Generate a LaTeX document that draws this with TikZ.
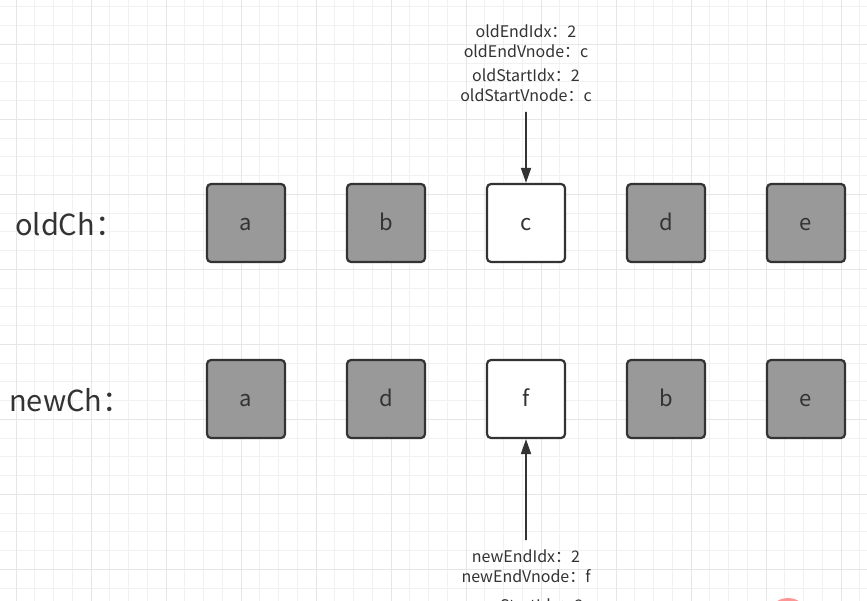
\documentclass[tikz,border=0pt]{standalone}
\usepackage{fontspec}
\setmainfont{Noto Sans CJK SC}
\usepackage{tikz}
\usetikzlibrary{arrows.meta,positioning}
\definecolor{gridminor}{RGB}{241,241,241}
\definecolor{gridmajor}{RGB}{230,230,230}
\definecolor{boxgray}{RGB}{153,153,153}
\definecolor{inkgray}{RGB}{51,51,51}
\definecolor{dotred}{RGB}{255,150,150}

\begin{document}
\begin{tikzpicture}[x=1pt,y=-1pt,
    vbox/.style={draw=inkgray, line width=2.2pt, rounded corners=4pt,
      minimum size=78pt, inner sep=0pt, text=inkgray,
      text height=15pt, text depth=0pt,
      font=\fontsize{22}{26}\selectfont},
    oldbox/.style={vbox, fill=boxgray},
    curbox/.style={vbox, fill=white},
    rowlbl/.style={anchor=west, inner sep=0pt, text=inkgray,
      font=\fontsize{29}{34}\selectfont},
    ptrinfo/.style={inner sep=0pt, align=center, text=inkgray,
      font=\fontsize{16}{20}\selectfont},
    ptr/.style={draw=inkgray, line width=1.8pt,
      -{Triangle[length=15pt,width=10pt]}}]
      \clip (0,0) rectangle (867,601);
      \fill[white] (0,0) rectangle (867,601);
      % background grid
      \foreach \i in {0,...,47}
        \draw[gridminor, line width=1pt] ({-2.75+\i*18.75},0) -- ++(0,601);
      \foreach \j in {0,...,32}
        \draw[gridminor, line width=1pt] (0,{6.8+\j*18.75}) -- ++(867,0);
      \foreach \i in {0,...,11}
        \draw[gridmajor, line width=1pt] ({16+\i*75},0) -- ++(0,601);
      \foreach \j in {0,...,7}
        \draw[gridmajor, line width=1pt] (0,{44.3+\j*75}) -- ++(867,0);

      % old children
      \node[rowlbl] (oldlbl) at (15,224) {oldCh：};
      \node[oldbox] (oa) at (246,223) {a};
      \node[oldbox, right=59.8pt of oa] (ob) {b};
      \node[curbox, right=59.8pt of ob] (oc) {c};
      \node[oldbox, right=59.8pt of oc] (od) {d};
      \node[oldbox, right=59.8pt of od] (oe) {e};

      % new children
      \node[rowlbl] (newlbl) at (9,400) {newCh：};
      \node[oldbox] (na) at (246,399) {a};
      \node[oldbox, right=59.8pt of na] (nd) {d};
      \node[curbox, right=59.8pt of nd] (nf) {f};
      \node[oldbox, right=59.8pt of nf] (nb) {b};
      \node[oldbox, right=59.8pt of nb] (ne) {e};

      % pointers
      \node[ptrinfo] (oldend) at (526,41) {oldEndIdx：2\\oldEndVnode：c};
      \node[ptrinfo] (oldstart) at (526,85) {oldStartIdx：2\\oldStartVnode：c};
      \coordinate (otop) at (526,112);
      \draw[ptr] (otop) -- (oc.north);

      \node[ptrinfo] (newend) at (526,566) {newEndIdx：2\\newEndVnode：f};
      \node[ptrinfo] (newstart) at (526,605) {newStartIdx：2};
      \coordinate (nbot) at (526,540);
      \draw[ptr] (nbot) -- (nf.south);

      \fill[dotred] (788,619) circle (21);
    \end{tikzpicture}
\end{document}
